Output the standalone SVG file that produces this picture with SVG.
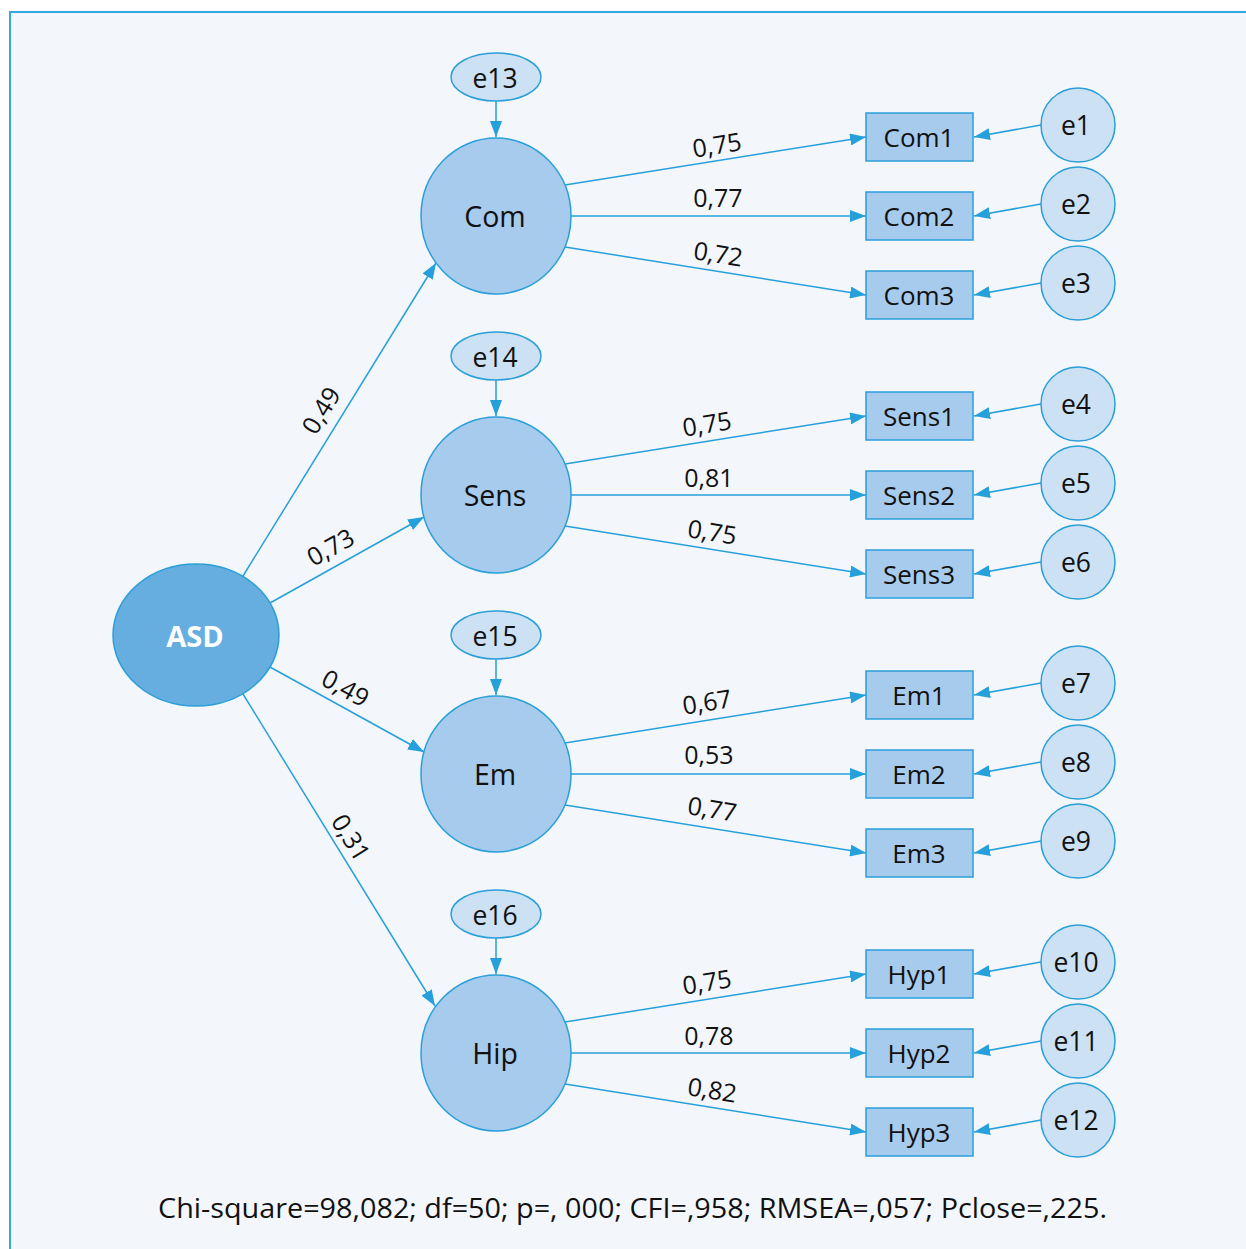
<svg xmlns="http://www.w3.org/2000/svg" width="1246" height="1249" viewBox="0 0 1246 1249">
<defs>
<marker id="ah" markerUnits="userSpaceOnUse" markerWidth="16" markerHeight="12" refX="16" refY="6" orient="auto">
<path d="M0,0 L16,6 L0,12 z" fill="#26a0db"/>
</marker>
<style>
text{font-family:"Open Sans","Noto Sans","Liberation Sans",sans-serif;fill:#111;text-anchor:middle}
.ln{stroke:#26a0db;stroke-width:1.5;fill:none;marker-end:url(#ah)}
.lat{fill:#a7cbed;stroke:#2a9fd8;stroke-width:1.5}
.obs{fill:#a7cbed;stroke:#2a9fd8;stroke-width:1.5}
.err{fill:#cde1f5;stroke:#2a9fd8;stroke-width:1.5}
.lt{font-size:28.5px}
.ot{font-size:26px}
.et{font-size:26.5px}
.cf{font-size:25px}
</style>
</defs>
<rect x="10" y="12" width="1240" height="1240" fill="#f3f7fc" stroke="#33a7df" stroke-width="2"/>

<g id="connectors">
<line class="ln" x1="243" y1="576" x2="436" y2="263"/>
<line class="ln" x1="270" y1="603" x2="424" y2="517"/>
<line class="ln" x1="270" y1="667" x2="424" y2="752"/>
<line class="ln" x1="243" y1="694" x2="435" y2="1006"/>

<line class="ln" x1="496" y1="101" x2="496" y2="137"/>
<line class="ln" x1="496" y1="380" x2="496" y2="416"/>
<line class="ln" x1="496" y1="659" x2="496" y2="695"/>
<line class="ln" x1="496" y1="938" x2="496" y2="974"/>

<line class="ln" x1="565" y1="185" x2="866" y2="137"/>
<line class="ln" x1="571" y1="216" x2="866" y2="216"/>
<line class="ln" x1="565" y1="247" x2="866" y2="295"/>
<line class="ln" x1="565" y1="464" x2="866" y2="416"/>
<line class="ln" x1="571" y1="495" x2="866" y2="495"/>
<line class="ln" x1="565" y1="526" x2="866" y2="574"/>
<line class="ln" x1="565" y1="743" x2="866" y2="695"/>
<line class="ln" x1="571" y1="774" x2="866" y2="774"/>
<line class="ln" x1="565" y1="805" x2="866" y2="853"/>
<line class="ln" x1="565" y1="1022" x2="866" y2="974"/>
<line class="ln" x1="571" y1="1053" x2="866" y2="1053"/>
<line class="ln" x1="565" y1="1084" x2="866" y2="1132"/>

<line class="ln" x1="1041" y1="125" x2="974" y2="137"/>
<line class="ln" x1="1041" y1="204" x2="974" y2="216"/>
<line class="ln" x1="1041" y1="283" x2="974" y2="295"/>
<line class="ln" x1="1041" y1="404" x2="974" y2="416"/>
<line class="ln" x1="1041" y1="483" x2="974" y2="495"/>
<line class="ln" x1="1041" y1="562" x2="974" y2="574"/>
<line class="ln" x1="1041" y1="683" x2="974" y2="695"/>
<line class="ln" x1="1041" y1="762" x2="974" y2="774"/>
<line class="ln" x1="1041" y1="841" x2="974" y2="853"/>
<line class="ln" x1="1041" y1="962" x2="974" y2="974"/>
<line class="ln" x1="1041" y1="1041" x2="974" y2="1053"/>
<line class="ln" x1="1041" y1="1120" x2="974" y2="1132"/>

<text class="cf" transform="translate(322,411) rotate(-58.3)" y="8">0,49</text>
<text class="cf" transform="translate(331,548) rotate(-29)" y="8">0,73</text>
<text class="cf" transform="translate(345,689) rotate(29)" y="8">0,49</text>
<text class="cf" transform="translate(350,838) rotate(58.3)" y="8">0,31</text>

<text class="cf" transform="translate(717,146) rotate(-9)" y="8">0,75</text>
<text class="cf" x="718" y="207">0,77</text>
<text class="cf" transform="translate(718,255) rotate(9)" y="8">0,72</text>
<text class="cf" transform="translate(707,425) rotate(-9)" y="8">0,75</text>
<text class="cf" x="709" y="487">0,81</text>
<text class="cf" transform="translate(712,533) rotate(9)" y="8">0,75</text>
<text class="cf" transform="translate(707,703) rotate(-9)" y="8">0,67</text>
<text class="cf" x="709" y="764">0,53</text>
<text class="cf" transform="translate(712,810) rotate(9)" y="8">0,77</text>
<text class="cf" transform="translate(707,983) rotate(-9)" y="8">0,75</text>
<text class="cf" x="709" y="1045">0,78</text>
<text class="cf" transform="translate(712,1091) rotate(9)" y="8">0,82</text>
</g>

<g id="ASD"><ellipse cx="196" cy="635" rx="83" ry="71" fill="#66ade0" stroke="#2a9fd8" stroke-width="1.5"/><text x="195" y="647" style="font-size:29px;font-weight:bold;fill:#fff">ASD</text></g>

<g id="Com"><ellipse class="lat" cx="496" cy="216" rx="75" ry="78"/><text class="lt" x="495" y="227">Com</text></g>
<g id="Sens"><ellipse class="lat" cx="496" cy="495" rx="75" ry="78"/><text class="lt" x="495" y="506">Sens</text></g>
<g id="Em"><ellipse class="lat" cx="496" cy="774" rx="75" ry="78"/><text class="lt" x="495" y="785">Em</text></g>
<g id="Hip"><ellipse class="lat" cx="496" cy="1053" rx="75" ry="78"/><text class="lt" x="495" y="1064">Hip</text></g>

<g id="e13"><ellipse class="err" cx="496" cy="77" rx="45" ry="24"/><text class="et" x="495" y="88">e13</text></g>
<g id="e14"><ellipse class="err" cx="496" cy="356" rx="45" ry="24"/><text class="et" x="495" y="367">e14</text></g>
<g id="e15"><ellipse class="err" cx="496" cy="635" rx="45" ry="24"/><text class="et" x="495" y="646">e15</text></g>
<g id="e16"><ellipse class="err" cx="496" cy="914" rx="45" ry="24"/><text class="et" x="495" y="925">e16</text></g>

<g id="Com1"><rect class="obs" x="866" y="113" width="107" height="48"/><text class="ot" x="919" y="147">Com1</text></g>
<g id="Com2"><rect class="obs" x="866" y="192" width="107" height="48"/><text class="ot" x="919" y="226">Com2</text></g>
<g id="Com3"><rect class="obs" x="866" y="271" width="107" height="48"/><text class="ot" x="919" y="305">Com3</text></g>
<g id="Sens1"><rect class="obs" x="866" y="392" width="107" height="48"/><text class="ot" x="919" y="426">Sens1</text></g>
<g id="Sens2"><rect class="obs" x="866" y="471" width="107" height="48"/><text class="ot" x="919" y="505">Sens2</text></g>
<g id="Sens3"><rect class="obs" x="866" y="550" width="107" height="48"/><text class="ot" x="919" y="584">Sens3</text></g>
<g id="Em1"><rect class="obs" x="866" y="671" width="107" height="48"/><text class="ot" x="919" y="705">Em1</text></g>
<g id="Em2"><rect class="obs" x="866" y="750" width="107" height="48"/><text class="ot" x="919" y="784">Em2</text></g>
<g id="Em3"><rect class="obs" x="866" y="829" width="107" height="48"/><text class="ot" x="919" y="863">Em3</text></g>
<g id="Hyp1"><rect class="obs" x="866" y="950" width="107" height="48"/><text class="ot" x="919" y="984">Hyp1</text></g>
<g id="Hyp2"><rect class="obs" x="866" y="1029" width="107" height="48"/><text class="ot" x="919" y="1063">Hyp2</text></g>
<g id="Hyp3"><rect class="obs" x="866" y="1108" width="107" height="48"/><text class="ot" x="919" y="1142">Hyp3</text></g>

<g id="e1"><circle class="err" cx="1078" cy="125" r="37"/><text class="et" x="1076" y="135">e1</text></g>
<g id="e2"><circle class="err" cx="1078" cy="204" r="37"/><text class="et" x="1076" y="214">e2</text></g>
<g id="e3"><circle class="err" cx="1078" cy="283" r="37"/><text class="et" x="1076" y="293">e3</text></g>
<g id="e4"><circle class="err" cx="1078" cy="404" r="37"/><text class="et" x="1076" y="414">e4</text></g>
<g id="e5"><circle class="err" cx="1078" cy="483" r="37"/><text class="et" x="1076" y="493">e5</text></g>
<g id="e6"><circle class="err" cx="1078" cy="562" r="37"/><text class="et" x="1076" y="572">e6</text></g>
<g id="e7"><circle class="err" cx="1078" cy="683" r="37"/><text class="et" x="1076" y="693">e7</text></g>
<g id="e8"><circle class="err" cx="1078" cy="762" r="37"/><text class="et" x="1076" y="772">e8</text></g>
<g id="e9"><circle class="err" cx="1078" cy="841" r="37"/><text class="et" x="1076" y="851">e9</text></g>
<g id="e10"><circle class="err" cx="1078" cy="962" r="37"/><text class="et" x="1076" y="972">e10</text></g>
<g id="e11"><circle class="err" cx="1078" cy="1041" r="37"/><text class="et" x="1076" y="1051">e11</text></g>
<g id="e12"><circle class="err" cx="1078" cy="1120" r="37"/><text class="et" x="1076" y="1130">e12</text></g>

<text x="158" y="1218" style="font-size:28px;text-anchor:start" textLength="949" lengthAdjust="spacingAndGlyphs">Chi-square=98,082; df=50; p=, 000; CFI=,958; RMSEA=,057; Pclose=,225.</text>
</svg>
